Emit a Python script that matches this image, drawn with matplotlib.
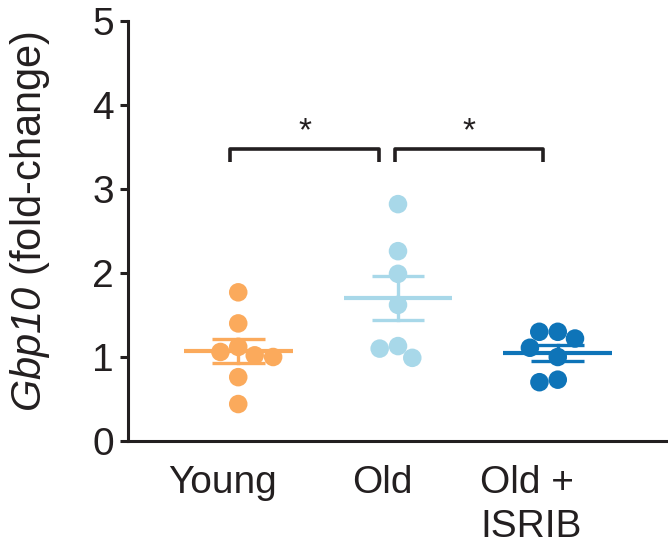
import matplotlib
matplotlib.use("Agg")
import matplotlib.pyplot as plt
import numpy as np

plt.rcParams['font.family'] = ['Liberation Sans', 'DejaVu Sans']
plt.rcParams['mathtext.fontset'] = 'custom'
# only the gene name is set in math, so make all of it italic (digits too)
plt.rcParams['mathtext.rm'] = 'Liberation Sans:italic'
plt.rcParams['mathtext.it'] = 'Liberation Sans:italic'

groups = ["Young", "Old", "Old +\nISRIB"]
young = [1.77, 1.40, 1.12, 1.06, 1.02, 1.00, 0.76, 0.44]
old = [2.82, 2.26, 1.99, 1.62, 1.13, 1.10, 0.99]
old_isrib = [1.30, 1.30, 1.22, 1.11, 1.00, 0.73, 0.70]
colors = ["#FBAA5C", "#A8D8E9", "#0E74B8"]

W, H, DPI = 6.68, 5.58, 100
fig = plt.figure(figsize=(W, H), dpi=DPI)
ax = fig.add_axes([128 / 668, 117 / 558, 540 / 668, 420 / 558])
ax.set_xlim(-0.69, 2.69)
ax.set_ylim(0, 5)

# pixel scale of the axes, used to lay out the swarm
px_x = 540 / 3.38
px_y = 420 / 5
diam = 18.5


def swarm(vals):
    # place points one by one, as close to the centre as they fit
    order = np.argsort(vals)[::-1]
    placed = []
    offs = np.zeros(len(vals))
    for i in order:
        yi = vals[i] * px_y
        cands = [0.0]
        for xj, yj in placed:
            d = abs(yi - yj)
            if d < diam:
                w = np.sqrt(diam ** 2 - d ** 2)
                cands += [xj - w, xj + w]
        cands.sort(key=lambda c: (abs(c), c))
        for c in cands:
            if all((c - xj) ** 2 + (yi - yj) ** 2 >= diam ** 2 - 1e-6 for xj, yj in placed):
                offs[i] = c
                placed.append((c, yi))
                break
    return offs / px_x


data = [young, old, old_isrib]
for k, (vals, col) in enumerate(zip(data, colors)):
    vals = np.array(vals)
    xs = k + swarm(vals)
    ax.scatter(xs, vals, s=diam ** 2 * 0.52, color=col, edgecolors='none', zorder=2)
    m = vals.mean()
    sem = vals.std(ddof=1) / np.sqrt(len(vals))
    ax.plot([k - 0.34, k + 0.34], [m, m], color=col, lw=3, zorder=3, solid_capstyle='butt')
    ax.plot([k, k], [m - sem, m + sem], color=col, lw=2.4, zorder=3)
    for e in (m - sem, m + sem):
        ax.plot([k - 0.165, k + 0.165], [e, e], color=col, lw=2.4, zorder=3, solid_capstyle='butt')

# significance brackets
brackets = [(-0.05, 0.88), (0.98, 1.91)]
for x0, x1 in brackets:
    ax.plot([x0, x0, x1, x1], [3.32, 3.48, 3.48, 3.32], color='#231F20', lw=2.6,
            solid_joinstyle='round', solid_capstyle='butt')
    ax.text((x0 + x1) / 2, 3.68, "*", ha='center', va='center', fontsize=24, color='#231F20')

for s in ['top', 'right']:
    ax.spines[s].set_visible(False)
for s in ['left', 'bottom']:
    ax.spines[s].set_linewidth(2.2)
    ax.spines[s].set_color('#231F20')

ax.set_yticks(range(6))
ax.tick_params(axis='y', length=6, width=2.2, color='#231F20', labelsize=28, pad=4,
               labelcolor='#231F20')
ax.set_xticks([-0.10, 0.90, 1.83])
ax.set_xticklabels(groups, fontsize=28, color='#231F20', linespacing=1.3,
                   multialignment='left')
ax.tick_params(axis='x', length=0, pad=17)

ax.set_ylabel(r"$Gbp10$ (fold-change)", fontsize=30, color='#231F20')
ax.yaxis.set_label_coords(-0.14, 0.522)

fig.savefig("out.png", dpi=DPI)
